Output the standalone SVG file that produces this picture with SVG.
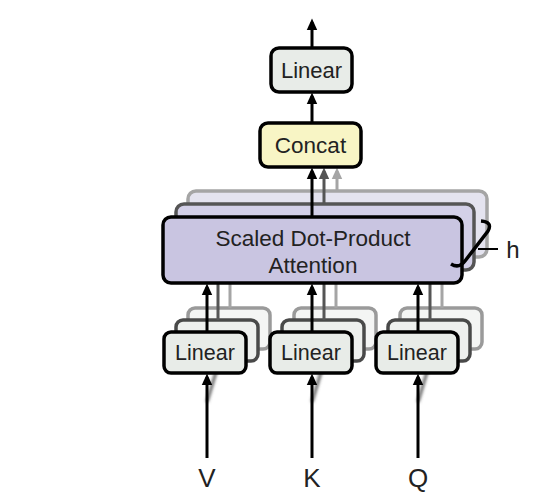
<svg xmlns="http://www.w3.org/2000/svg" width="549" height="494" viewBox="0 0 549 494">
<style>
.t{font-family:"Liberation Sans",Arial,sans-serif;fill:#222;text-anchor:middle}
.lin{fill:#e8ece8;stroke:#000;stroke-width:3.5}
.lin2{fill:#eef0ee;stroke:#4a4a4a;stroke-width:3.5}
.lin3{fill:#f4f5f4;stroke:#9a9a9a;stroke-width:3.5}
.att{fill:#c9c5e1;stroke:#000;stroke-width:3.5}
.att2{fill:#d3d0e8;stroke:#555;stroke-width:3.5}
.att3{fill:#e4e3ef;stroke:#a5a5a5;stroke-width:3.5}
.con{fill:#f8f5c5;stroke:#000;stroke-width:3.5}
.a{stroke:#000;stroke-width:3;fill:none}
.a2{stroke:#555;stroke-width:3;fill:none}
.a3{stroke:#a5a5a5;stroke-width:3;fill:none}
</style>
<defs>
<marker id="m1" viewBox="0 0 10 10" refX="7" refY="5" markerWidth="12" markerHeight="12" markerUnits="userSpaceOnUse" orient="auto"><path d="M0,0.5 L10,5 L0,9.5 z" fill="#000"/></marker>
<marker id="m2" viewBox="0 0 10 10" refX="7" refY="5" markerWidth="12" markerHeight="12" markerUnits="userSpaceOnUse" orient="auto"><path d="M0,0.5 L10,5 L0,9.5 z" fill="#555"/></marker>
<marker id="m3" viewBox="0 0 10 10" refX="7" refY="5" markerWidth="12" markerHeight="12" markerUnits="userSpaceOnUse" orient="auto"><path d="M0,0.5 L10,5 L0,9.5 z" fill="#a5a5a5"/></marker>
<filter id="bl" x="-10%" y="-10%" width="120%" height="120%"><feGaussianBlur stdDeviation="0.7"/></filter>
<filter id="bl2" x="-50%" y="-10%" width="200%" height="120%"><feGaussianBlur stdDeviation="1.4"/></filter>
</defs>

<g id="attention-back" filter="url(#bl)">
<rect class="att3" x="188" y="191" width="299" height="66" rx="8"/>
<rect class="att2" x="176" y="204" width="298" height="66" rx="8"/>
</g>

<g id="linear-back" filter="url(#bl)">
<rect class="lin3" x="188" y="308" width="82" height="41" rx="7"/>
<rect class="lin2" x="176" y="320" width="82" height="41" rx="7"/>
<rect class="lin3" x="294" y="308" width="82" height="41" rx="7"/>
<rect class="lin2" x="282" y="320" width="82" height="41" rx="7"/>
<rect class="lin3" x="400" y="308" width="82" height="41" rx="7"/>
<rect class="lin2" x="388" y="320" width="82" height="41" rx="7"/>
</g>

<g id="connectors">
<line class="a" x1="312" y1="48" x2="312" y2="22" marker-end="url(#m1)"/>
<line class="a" x1="312" y1="123" x2="312" y2="96" marker-end="url(#m1)"/>
<line class="a" x1="312" y1="217" x2="312" y2="171" marker-end="url(#m1)"/>
<line class="a2" x1="324" y1="204" x2="324" y2="171" marker-end="url(#m2)"/>
<line class="a3" x1="337" y1="191" x2="337" y2="171" marker-end="url(#m3)"/>
<g filter="url(#bl)">
<line class="a3" x1="230" y1="308" x2="230" y2="283"/>
<line class="a2" x1="218" y1="320" x2="218" y2="283"/>
<line class="a3" x1="336" y1="308" x2="336" y2="283"/>
<line class="a2" x1="324" y1="320" x2="324" y2="283"/>
<line class="a3" x1="442" y1="308" x2="442" y2="283"/>
<line class="a2" x1="430" y1="320" x2="430" y2="283"/>
</g>
<line class="a" x1="207" y1="332" x2="207" y2="287" marker-end="url(#m1)"/>
<line class="a" x1="312" y1="332" x2="312" y2="287" marker-end="url(#m1)"/>
<line class="a" x1="418" y1="332" x2="418" y2="287" marker-end="url(#m1)"/>
<g filter="url(#bl2)" stroke="#666" stroke-width="3">
<line x1="207" y1="402" x2="219" y2="362"/>
<line x1="312" y1="402" x2="324" y2="362"/>
<line x1="418" y1="402" x2="430" y2="362"/>
</g>
<line class="a" x1="207" y1="458" x2="207" y2="377" marker-end="url(#m1)"/>
<line class="a" x1="312" y1="458" x2="312" y2="377" marker-end="url(#m1)"/>
<line class="a" x1="418" y1="458" x2="418" y2="377" marker-end="url(#m1)"/>
</g>

<g id="linear-top">
<rect class="lin" x="271" y="48" width="81" height="44" rx="8"/>
<text class="t" x="311.5" y="78" font-size="22">Linear</text>
</g>

<g id="concat">
<rect class="con" x="260" y="123" width="101" height="44" rx="8"/>
<text class="t" x="310.5" y="153" font-size="22.5">Concat</text>
</g>

<g id="attention">
<rect class="att" x="163" y="217" width="299" height="66" rx="8"/>
<text class="t" x="313" y="246" font-size="22.5">Scaled Dot-Product</text>
<text class="t" x="313" y="273" font-size="22.5">Attention</text>
</g>

<g id="h-brace">
<path d="M481,221 Q493,222 488,231 L465,261 Q459,269 451,264" fill="none" stroke="#000" stroke-width="3.5"/>
<line x1="478" y1="249" x2="498" y2="249" stroke="#000" stroke-width="2"/>
<text class="t" x="513" y="258" font-size="24">h</text>
</g>

<g id="linear-v">
<rect class="lin" x="164" y="332" width="82" height="41" rx="7"/>
<text class="t" x="205" y="360" font-size="21.5">Linear</text>
</g>
<g id="linear-k">
<rect class="lin" x="270" y="332" width="82" height="41" rx="7"/>
<text class="t" x="311" y="360" font-size="21.5">Linear</text>
</g>
<g id="linear-q">
<rect class="lin" x="376" y="332" width="82" height="41" rx="7"/>
<text class="t" x="417" y="360" font-size="21.5">Linear</text>
</g>

<g id="labels">
<text class="t" x="207" y="487" font-size="26">V</text>
<text class="t" x="312" y="487" font-size="26">K</text>
<text class="t" x="418" y="487" font-size="26">Q</text>
</g>
</svg>
